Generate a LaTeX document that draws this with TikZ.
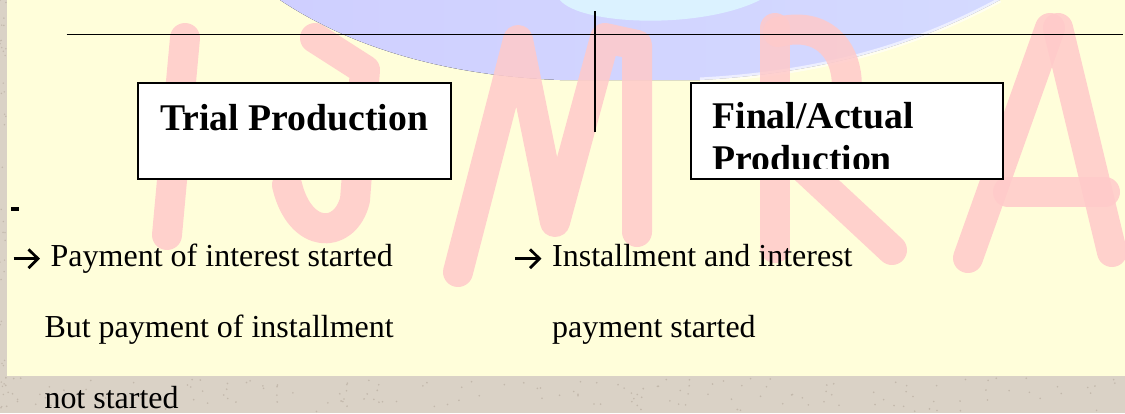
\documentclass[tikz,border=0pt]{standalone}
\usepackage{fontspec}
\setmainfont{Liberation Serif}
\definecolor{bggray}{HTML}{DAD2C6}
\definecolor{speck}{HTML}{C2B8AB}
\definecolor{paper}{HTML}{FFFEDA}
\definecolor{bandL}{HTML}{CFCFFF}
\definecolor{bandM}{HTML}{D6E4FF}
\definecolor{bandR}{HTML}{D4DAFF}
\definecolor{bandC}{HTML}{DDF8FF}
\definecolor{wm}{HTML}{FFCACA}
\begin{document}
\begin{tikzpicture}[x=1pt,y=-1pt,
  rule/.style={line width=1.8pt,black},
  prodbox/.style={draw=black,line width=2pt,fill=white,inner sep=0pt,
    minimum width=312.7pt,minimum height=95.7pt},
  headtxt/.style={anchor=base west,inner sep=0pt,font=\fontsize{37.7}{43}\selectfont\bfseries},
  bodytxt/.style={anchor=base west,inner sep=0pt,font=\fontsize{32}{37}\selectfont},
  bularrow/.style={line width=2.8pt,black,line cap=butt},
  letter/.style={line width=30pt,wm,opacity=0.85,line cap=round,line join=round}]
\useasboundingbox (0,0) rectangle (1125,413);
% background
\fill[bggray] (0,0) rectangle (1125,413);
\pgfmathsetseed{11}
\foreach \i in {1,...,160}{
  \pgfmathsetmacro\rx{rnd*1125}
  \pgfmathsetmacro\ry{378+rnd*34}
  \fill[speck] (\rx,\ry) circle (0.9pt);
}
\foreach \i in {1,...,40}{
  \pgfmathsetmacro\ry{rnd*413}
  \pgfmathsetmacro\rx{rnd*6}
  \fill[speck] (\rx,\ry) circle (0.8pt);
}
\fill[paper] (7.3,0) rectangle (1125,375.7);
% blue band
\fill[left color=bandL,middle color=bandM,right color=bandR]
  (280,0) .. controls (340,40) and (430,75) .. (560,80) -- (700,80)
  .. controls (850,72) and (940,32) .. (1000,0) -- cycle;
\fill[bandC,opacity=0.85] (560,0) .. controls (580,25) and (700,30) .. (760,0) -- cycle;
\draw[white,line width=5pt,opacity=0.6] (700,80) .. controls (850,72) and (940,32) .. (1000,0);
% watermark letters
\draw[letter] (185,38) -- (167,235);
\draw[letter] (315,38) -- (365,70) -- (355,200) .. controls (345,240) and (300,240) .. (287,185);
\draw[letter] (458,272) -- (518,40) -- (555,222) -- (605,38) -- (637,45) -- (637,232);
\draw[letter] (775,28) -- (775,248);
\draw[letter] (778,32) .. controls (865,10) and (870,140) .. (790,155) -- (892,250);
\draw[letter] (1050,28) -- (968,258);
\draw[letter] (1058,28) -- (1112,252);
\draw[letter] (1008,192) -- (1105,192);
% rules
\coordinate (hl) at (66.7,34.5);
\coordinate (hr) at (1123,34.5);
\coordinate (vt) at (595,11);
\coordinate (vb) at (595,131.7);
\draw[rule] (hl) -- (hr);
\draw[rule] (vt) -- (vb);
% boxes
\node[prodbox] (trial) at (294.7,131.2) {};
\node[prodbox] (final) at (847,131.2) {};
\node[headtxt] (trialtxt) at (160,130) {Trial Production};
\node[headtxt] (finaltxt) at (712.3,128.3) {Final/Actual};
\begin{scope}
\clip (690,83) rectangle (1004,168.3);
\node[headtxt] (finaltxt2) at (712.3,171.5) {Production};
\end{scope}
% dash
\node[fill=black,inner sep=0pt,minimum width=8pt,minimum height=4.5pt] (dash) at (15,209.2) {};
% arrow bullets
\coordinate (aAs) at (13.5,258.7);
\coordinate (aAe) at (38,258.7);
\draw[bularrow] (aAs) -- (aAe);
\draw[bularrow,line join=miter] (28.5,249.3) -- (aAe) -- (28.5,268.1);
\coordinate (aBs) at (515,258.7);
\coordinate (aBe) at (539.5,258.7);
\draw[bularrow] (aBs) -- (aBe);
\draw[bularrow,line join=miter] (530,249.3) -- (aBe) -- (530,268.1);
% body text
\node[bodytxt] (pay1) at (50.5,266.7) {Payment of interest started};
\node[bodytxt] (pay2) at (44.3,337.7) {But payment of installment};
\node[bodytxt] (pay3) at (44.3,408.3) {not started};
\node[bodytxt] (inst1) at (552,266.7) {Installment and interest};
\node[bodytxt] (inst2) at (552,337.7) {payment started};
\end{tikzpicture}
\end{document}
